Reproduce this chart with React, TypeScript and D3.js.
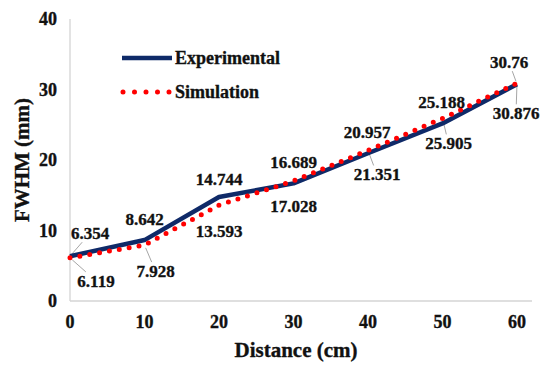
import * as d3 from "d3";
import { useEffect, useRef } from "react";

// chart values
const distances = [0, 10, 20, 30, 40, 50, 60];
const experimental = [6.354, 8.642, 14.744, 16.689, 20.957, 25.188, 30.76];
const simulation = [6.119, 7.928, 13.593, 17.028, 21.351, 25.905, 30.876];
const yTicks = [0, 10, 20, 30, 40];
const xTicks = [0, 10, 20, 30, 40, 50, 60];
const seriesNames = ["Experimental", "Simulation"];

// label placement (pixel offsets of the label centre from its point)
const expLabelOffsets = [[20, -23], [0, -21], [0, -18], [0, -21], [-1, -21], [-1, -21], [-8, -22]];
const simLabelOffsets = [[26, 23], [11, 26], [0, 26], [0, 25], [9, 24], [6, 25], [-1, 30]];
const expLeaders = [0, 6];
const simLeaders = [0, 1, 4, 5, 6];

const FONT = "Liberation Serif, DejaVu Serif";

export default function App() {
  const svgRef = useRef<SVGSVGElement | null>(null);

  useEffect(() => {
    if (!svgRef.current) return;
    const svg = d3.select(svgRef.current);
    svg.selectAll("*").remove();

    const width = 540;
    const height = 367;

    const x = d3.scaleLinear().domain([0, 60]).range([70, 517]);
    const y = d3.scaleLinear().domain([0, 40]).range([301, 19]);

    svg.attr("width", width).attr("height", height).attr("viewBox", `0 0 ${width} ${height}`);
    svg.append("rect").attr("width", width).attr("height", height).attr("fill", "#fff");

    // bold serif text, slightly stroked to match the heavy look of the original
    const txt = (sel: any, size: number) =>
      sel.attr("font-family", FONT).attr("font-weight", 700).attr("font-size", size)
        .attr("fill", "#111").attr("stroke", "#111").attr("stroke-width", 0.35);

    // axes lines
    svg.append("line")
      .attr("x1", x(0)).attr("x2", x(0)).attr("y1", y(40)).attr("y2", y(0))
      .attr("stroke", "#d4d4d4").attr("stroke-width", 1.3);
    svg.append("line")
      .attr("x1", x(0)).attr("x2", 532).attr("y1", y(0)).attr("y2", y(0))
      .attr("stroke", "#d4d4d4").attr("stroke-width", 1.3);

    // tick labels
    svg.append("g")
      .selectAll("text")
      .data(yTicks)
      .join("text")
      .attr("x", 57)
      .attr("y", d => y(d))
      .attr("dy", "0.35em")
      .attr("text-anchor", "end")
      .call(s => txt(s, 18))
      .text(d => d);

    svg.append("g")
      .selectAll("text")
      .data(xTicks)
      .join("text")
      .attr("x", d => x(d))
      .attr("y", 322)
      .attr("dy", "0.35em")
      .attr("text-anchor", "middle")
      .call(s => txt(s, 18))
      .text(d => d);

    // axis titles
    svg.append("text")
      .attr("transform", `translate(22,160) rotate(-90)`)
      .attr("dy", "0.35em")
      .attr("text-anchor", "middle")
      .call(s => txt(s, 21))
      .text("FWHM (mm)");

    svg.append("text")
      .attr("x", 296)
      .attr("y", 357)
      .attr("text-anchor", "middle")
      .call(s => txt(s, 21))
      .text("Distance (cm)");

    const line = d3.line<number>()
      .x((_, i) => x(distances[i]))
      .y(d => y(d));

    const leaders = svg.append("g");

    svg.append("path")
      .attr("d", line(experimental))
      .attr("fill", "none")
      .attr("stroke", "#0f2a68")
      .attr("stroke-width", 4.5)
      .attr("stroke-linejoin", "round");

    svg.append("path")
      .attr("d", line(simulation))
      .attr("fill", "none")
      .attr("stroke", "#ff0000")
      .attr("stroke-width", 5)
      .attr("stroke-linecap", "round")
      .attr("stroke-dasharray", "0 10");

    // data labels with leader lines
    const labels = svg.append("g");
    const drawLabels = (values: number[], offsets: number[][], leaderIdx: number[]) => {
      values.forEach((v, i) => {
        const px = x(distances[i]);
        const py = y(v);
        const cx = px + offsets[i][0];
        const cy = py + offsets[i][1];
        const t = labels.append("text")
          .attr("x", cx)
          .attr("y", cy)
          .attr("dy", "0.35em")
          .attr("text-anchor", "middle")
          .call(s => txt(s, 17))
          .text(String(v));
        if (leaderIdx.includes(i)) {
          const b = (t.node() as SVGTextElement).getBBox();
          const hw = b.width / 2 + 1;
          const hh = 9;
          const dx = px - cx, dy = py - cy;
          // where the segment from the label centre to the point leaves the label box
          const s = Math.min(Math.abs(dx) > 0 ? hw / Math.abs(dx) : Infinity, Math.abs(dy) > 0 ? hh / Math.abs(dy) : Infinity);
          const ex = cx + dx * s, ey = cy + dy * s;
          const len = Math.hypot(dx, dy) || 1;
          leaders.append("line")
            .attr("x1", px - (dx / len) * 3)
            .attr("y1", py - (dy / len) * 3)
            .attr("x2", ex)
            .attr("y2", ey)
            .attr("stroke", "#a6a6a6")
            .attr("stroke-width", 1);
        }
      });
    };
    drawLabels(experimental, expLabelOffsets, expLeaders);
    drawLabels(simulation, simLabelOffsets, simLeaders);

    // legend
    const legend = svg.append("g");
    legend.append("line")
      .attr("x1", 122).attr("x2", 172).attr("y1", 58).attr("y2", 58)
      .attr("stroke", "#0f2a68").attr("stroke-width", 4.5);
    legend.append("line")
      .attr("x1", 123).attr("x2", 170).attr("y1", 92).attr("y2", 92)
      .attr("stroke", "#ff0000").attr("stroke-width", 5)
      .attr("stroke-linecap", "round").attr("stroke-dasharray", "0 11.5");
    legend.selectAll("text.leg")
      .data(seriesNames)
      .join("text")
      .attr("x", 175)
      .attr("y", (_, i) => 58 + i * 34)
      .attr("dy", "0.35em")
      .call(s => txt(s, 18))
      .text(d => d);
  }, []);

  return <svg ref={svgRef} style={{ position: "absolute", left: 0, top: 0, display: "block" }}></svg>;
}
